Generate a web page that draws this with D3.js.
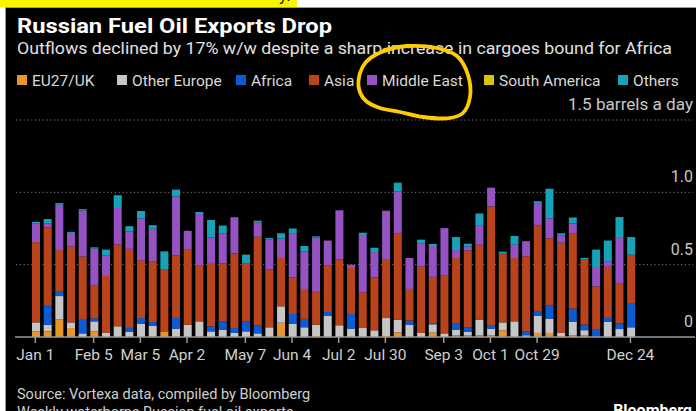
<!DOCTYPE html>
<html>
<head>
<meta charset="utf-8">
<script src="https://cdn.jsdelivr.net/npm/d3@7"></script>
<style>
  html, body { margin: 0; padding: 0; background: #fff; }
  svg { display: block; }
</style>
</head>
<body>
<script>
// Weekly waterborne Russian fuel oil exports, million barrels a day
const weeks = ["Jan 1","Jan 8","Jan 15","Jan 22","Jan 29","Feb 5","Feb 12","Feb 19","Feb 26",
  "Mar 5","Mar 12","Mar 19","Mar 26","Apr 2","Apr 9","Apr 16","Apr 23","Apr 30",
  "May 7","May 14","May 21","May 28","Jun 4","Jun 11","Jun 18","Jun 25",
  "Jul 2","Jul 9","Jul 16","Jul 23","Jul 30","Aug 6","Aug 13","Aug 20","Aug 27",
  "Sep 3","Sep 10","Sep 17","Sep 24","Oct 1","Oct 8","Oct 15","Oct 22","Oct 29",
  "Nov 5","Nov 12","Nov 19","Nov 26","Dec 3","Dec 10","Dec 17","Dec 24"];

const tickLabels = ["Jan 1","Feb 5","Mar 5","Apr 2","May 7","Jun 4","Jul 2","Jul 30","Sep 3","Oct 1","Oct 29","Dec 24"];

const seriesNames = ["EU27/UK","Other Europe","Africa","Asia","Middle East","South America","Others"];
const seriesColors = ["#e8962c","#c6c6c6","#0d5bd3","#b9441b","#9452c2","#d8c400","#17a2b8"];

const eu27uk = [0.039,0.039,0.122,0.062,0,0.039,0,0,0,0,0.007,0.039,0,0,0.007,0,0,0,0,0,0,0.099,0,0,0.007,0,
  0,0,0,0,0.007,0.032,0,0,0.030,0,0.012,0.012,0.012,0.012,0.046,0,0,0.028,0.028,0.007,0.012,0.012,0,0,0,0];
const otherEurope = [0.062,0.046,0.161,0.039,0.025,0.069,0.028,0.074,0.035,0.090,0.071,0,0.058,0.085,0.101,0.039,0.051,0.030,0.039,0.025,0.067,0.113,0.090,0.067,0.078,0.145,
  0.081,0.058,0.062,0.046,0.124,0.088,0.083,0.028,0.058,0.025,0.039,0.023,0.108,0.046,0.055,0.108,0.012,0.120,0.099,0.021,0.092,0.035,0,0.104,0.055,0.067];
const africa = [0,0.136,0.030,0,0.094,0.021,0,0,0.028,0.041,0.025,0,0.074,0,0,0.035,0.058,0.032,0.069,0.055,0,0,0.069,0.058,0,0.028,
  0,0.101,0,0,0,0,0.030,0,0.009,0,0.041,0.032,0,0.025,0,0,0.028,0.032,0.092,0,0.092,0.039,0.055,0.028,0.039,0.168];
const asia = [0.555,0.537,0.288,0.525,0.438,0.226,0.394,0.565,0.546,0.399,0.419,0.431,0.433,0.518,0.385,0.438,0.399,0.516,0.403,0.613,0.401,0.334,0.253,0.207,0.233,0.323,
  0.454,0.318,0.247,0.366,0.408,0.594,0.219,0.459,0.319,0.399,0.454,0.530,0.518,0.820,0.475,0.438,0.518,0.592,0.463,0.624,0.518,0.449,0.295,0.353,0.279,0.334];
const middleEast = [0.131,0.025,0.313,0.094,0.318,0.256,0.143,0.253,0.122,0.290,0.226,0,0.406,0.131,0.357,0.177,0.207,0.250,0,0.099,0.207,0.134,0.306,0.260,0.371,0.171,
  0.341,0.023,0.396,0.175,0.334,0.293,0.214,0.161,0.213,0.329,0.055,0.030,0.131,0.129,0,0.092,0.104,0.154,0.138,0.051,0.071,0,0.134,0.035,0.318,0];
const southAmerica = new Array(52).fill(0);
const others = [0.009,0.032,0.012,0.007,0.009,0.009,0.039,0.088,0.035,0.051,0.025,0.122,0.048,0,0.014,0.120,0.055,0,0.058,0.012,0.009,0.037,0.032,0.037,0.007,0,
  0,0,0.016,0.030,0,0.060,0,0.025,0.014,0,0.090,0.018,0.085,0,0.014,0.060,0,0.012,0.205,0.014,0.041,0.012,0.120,0.147,0.138,0.122];

const seriesValues = [eu27uk, otherEurope, africa, asia, middleEast, southAmerica, others];
const yTicks = [0, 0.5, 1.0, 1.5];

const W = 696, H = 411;
const svg = d3.select("body").append("svg").attr("width", W).attr("height", H);
const font = "Roboto, 'Liberation Sans', sans-serif";

// Frame: highlighted strip above the black panel
svg.append("rect").attr("x", 0).attr("y", 0).attr("width", 297).attr("height", 7).attr("fill", "#f9f200");
svg.append("text").attr("x", 279).attr("y", 1).attr("font-family", font).attr("font-size", 17)
  .attr("fill", "#111").text("y.");
svg.append("rect").attr("x", 5.5).attr("y", 7.5).attr("width", W - 5).attr("height", H - 7)
  .attr("fill", "#000").attr("stroke", "#9a9a9a").attr("stroke-width", 1);

// Title block
svg.append("text").attr("x", 17).attr("y", 33).attr("font-family", font).attr("font-weight", 700)
  .attr("font-size", 19.5).attr("fill", "#fff").attr("textLength", 315).attr("lengthAdjust", "spacingAndGlyphs")
  .text("Russian Fuel Oil Exports Drop");
svg.append("text").attr("x", 17).attr("y", 54).attr("font-family", font)
  .attr("font-size", 16).attr("fill", "#e0e0e0").attr("textLength", 655).attr("lengthAdjust", "spacingAndGlyphs")
  .text("Outflows declined by 17% w/w despite a sharp increase in cargoes bound for Africa");

// Legend
const legendX = [17, 117, 236, 309, 367, 484, 618];
const legend = svg.append("g").selectAll("g").data(seriesNames).join("g")
  .attr("transform", (d, i) => `translate(${legendX[i]},75)`);
legend.append("rect").attr("width", 10).attr("height", 10).attr("fill", (d, i) => seriesColors[i]);
legend.append("text").attr("x", 15).attr("y", 10.5).attr("font-family", font).attr("font-size", 15.5)
  .attr("fill", "#d8d8d8").text(d => d);

// Scales
const x = d3.scaleBand().domain(weeks).range([30.17, 636.97]).paddingInner(0.315).paddingOuter(0.1575);
const y = d3.scaleLinear().domain([0, 1.5]).range([337, 120]);

// Gridlines with right-hand labels
const grid = svg.append("g");
grid.selectAll("line").data(yTicks.filter(v => v > 0)).join("line")
  .attr("x1", 16).attr("x2", 693).attr("y1", d => y(d)).attr("y2", d => y(d))
  .attr("stroke", "#7a7a7a").attr("stroke-width", 1).attr("stroke-dasharray", "1.2,2.6");
grid.selectAll("text").data(yTicks).join("text")
  .attr("x", 693).attr("y", d => y(d) - 10).attr("text-anchor", "end")
  .attr("font-family", font).attr("font-size", 16).attr("fill", "#c8c8c8")
  .text(d => d === 1.5 ? "1.5 barrels a day" : (d === 0 ? "0" : d3.format(".1f")(d)))
  .filter(d => d === 1.5).attr("textLength", 125).attr("lengthAdjust", "spacingAndGlyphs");

// Stacked bars
const rows = weeks.map((w, i) => {
  const r = { week: w };
  seriesNames.forEach((s, k) => { r[s] = seriesValues[k][i]; });
  return r;
});
const stacked = d3.stack().keys(seriesNames)(rows);
svg.append("g").selectAll("g").data(stacked).join("g")
  .attr("fill", (d, i) => seriesColors[i])
  .selectAll("rect").data(d => d).join("rect")
  .attr("x", d => x(d.data.week)).attr("width", x.bandwidth())
  .attr("y", d => y(d[1])).attr("height", d => Math.max(0, y(d[0]) - y(d[1])));

// Baseline and date axis
svg.append("line").attr("x1", 15).attr("x2", 695).attr("y1", 337).attr("y2", 337)
  .attr("stroke", "#9a9a9a").attr("stroke-width", 1.5);
const xAxis = d3.axisBottom(x).tickValues(tickLabels).tickSize(6).tickPadding(6);
const gx = svg.append("g").attr("transform", "translate(-0.7,337)").call(xAxis);
gx.select(".domain").remove();
gx.selectAll(".tick line").attr("stroke", "#9a9a9a").attr("stroke-width", 1.5);
gx.selectAll(".tick text").attr("font-family", font).attr("font-size", 15.5).attr("fill", "#d0d0d0");

// Footer
svg.append("text").attr("x", 17).attr("y", 399).attr("font-family", font).attr("font-size", 14.5)
  .attr("fill", "#cfcfcf").text("Source: Vortexa data, compiled by Bloomberg");
svg.append("text").attr("x", 17).attr("y", 417).attr("font-family", font).attr("font-size", 14.5)
  .attr("fill", "#cfcfcf").text("Weekly waterborne Russian fuel oil exports");
svg.append("text").attr("x", 692).attr("y", 416).attr("text-anchor", "end").attr("font-family", font)
  .attr("font-weight", 700).attr("font-size", 16).attr("fill", "#fff").text("Bloomberg");

// Hand-drawn highlight loop around the Middle East legend entry
const loop = [[384,50],[407,46],[437,48],[457,56],[468,75],[470,97],[463,113],[450,118],[423,117],
  [400,112],[380,108],[366,101],[359,89],[360,73],[366,62],[377,54],[395,48]];
svg.append("path").attr("d", d3.line().curve(d3.curveCatmullRom)(loop))
  .attr("fill", "none").attr("stroke", "#ffcc00").attr("stroke-width", 3.8)
  .attr("stroke-linecap", "round").attr("stroke-linejoin", "round");
</script>
</body>
</html>
